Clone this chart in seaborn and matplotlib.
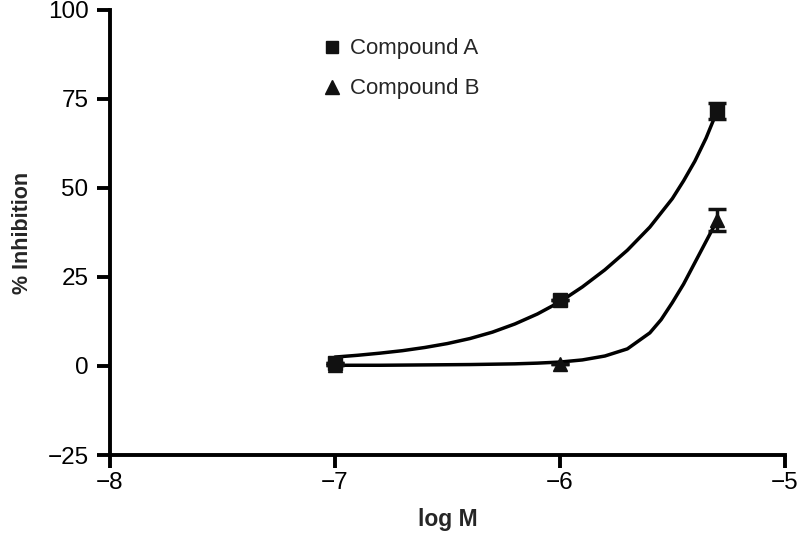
import numpy as np
import pandas as pd
import seaborn as sns
import matplotlib.pyplot as plt
from matplotlib.lines import Line2D

# measured points
log_m = [-7.0, -6.0, -5.3]
comp_a = [0.8, 18.5, 71.7]
comp_a_err = [0.0, 0.0, 2.2]
comp_b = [0.2, 0.5, 41.0]
comp_b_err = [0.0, 0.0, 3.0]

# fitted curves
fit_a_x = [-7.0, -6.9, -6.8, -6.7, -6.6, -6.5, -6.4, -6.3, -6.2, -6.1, -6.0, -5.9,
           -5.8, -5.7, -5.6, -5.5, -5.45, -5.4, -5.35, -5.3]
fit_a_y = [2.5, 3.0, 3.6, 4.3, 5.2, 6.3, 7.7, 9.5, 11.8, 14.6, 18.0, 22.2,
           27.0, 32.5, 39.0, 47.0, 52.0, 57.5, 64.0, 71.7]
fit_b_x = [-7.0, -6.8, -6.6, -6.4, -6.2, -6.1, -6.0, -5.9, -5.8, -5.7, -5.6,
           -5.55, -5.5, -5.45, -5.4, -5.35, -5.3]
fit_b_y = [0.2, 0.2, 0.3, 0.4, 0.6, 0.8, 1.1, 1.7, 2.8, 4.8, 9.3,
           13.0, 17.8, 23.0, 29.0, 35.0, 41.0]

fits = pd.concat([
    pd.DataFrame({"x": fit_a_x, "y": fit_a_y, "compound": "Compound A"}),
    pd.DataFrame({"x": fit_b_x, "y": fit_b_y, "compound": "Compound B"}),
])

sns.set_style("ticks")
plt.rcParams['font.family'] = ['Liberation Sans', 'DejaVu Sans']

fig = plt.figure(figsize=(8, 5.44), dpi=100)
ax = fig.add_axes([0.1375, 0.1636, 0.8435, 0.8182])

sns.lineplot(data=fits, x="x", y="y", units="compound", estimator=None, sort=False,
             color="black", linewidth=2.5, ax=ax, legend=False,
             solid_joinstyle="round", solid_capstyle="round")

ax.errorbar(log_m, comp_a, yerr=comp_a_err, fmt="s", color="#111111", markersize=10,
            capsize=6.5, capthick=2.5, elinewidth=2.5, zorder=5)
ax.errorbar(log_m, comp_b, yerr=comp_b_err, fmt="^", color="#111111", markersize=10,
            capsize=6.5, capthick=2.5, elinewidth=2.5, zorder=5)

ax.set_xlim(-8, -5)
ax.set_ylim(-25, 100)
ax.set_xticks([-8, -7, -6, -5])
ax.set_yticks([-25, 0, 25, 50, 75, 100])
ax.set_xticklabels(["\u22128", "\u22127", "\u22126", "\u22125"])
ax.set_yticklabels(["\u221225", "0", "25", "50", "75", "100"])
ax.tick_params(direction="out", length=9.5, width=2.8, labelsize=17.5, colors="black")
ax.tick_params(axis="x", pad=3)
ax.tick_params(axis="y", pad=6)
for side in ["left", "bottom"]:
    ax.spines[side].set_linewidth(2.8)
    ax.spines[side].set_color("black")
sns.despine(ax=ax)

ax.set_xlabel("log M", fontsize=16.5, fontweight="bold", labelpad=10)
ax.set_ylabel("% Inhibition", fontsize=15.5, fontweight="bold", labelpad=10)

handles = [
    Line2D([], [], marker="s", linestyle="none", color="#111111", markersize=9),
    Line2D([], [], marker="^", linestyle="none", color="#111111", markersize=10),
]
ax.legend(handles, ["Compound A", "Compound B"], loc="upper left",
          bbox_to_anchor=(0.373, 0.966), bbox_transform=fig.transFigure,
          frameon=False, fontsize=16, handletextpad=0.2, handlelength=1.2,
          labelspacing=0.85)

fig.savefig("out.png", dpi=100)
